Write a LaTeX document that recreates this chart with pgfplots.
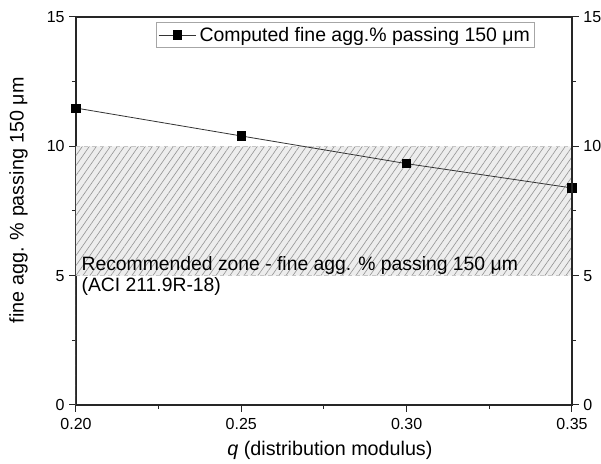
\documentclass[border=0pt]{standalone}
\usepackage{fontspec}
\setmainfont{Liberation Sans}
\usepackage{pgfplots}
\pgfplotsset{compat=1.18}
\usetikzlibrary{patterns.meta}
\begin{document}
\begin{tikzpicture}
\pgfplotsset{
  common/.style={
    scale only axis, width=372pt, height=291pt,
    xmin=0.2, xmax=0.35, ymin=0, ymax=15,
    tick align=outside,
    major tick length=5pt, minor tick length=3pt,
    tick style={black!85, line width=0.75pt},
    axis line style={black!85, line width=0.9pt},
    /pgf/number format/assume math mode=true,
    ticklabel style={font=\fontsize{12}{14}\selectfont},
    ytick={0,5,10,15}, minor ytick={2.5,7.5,12.5},
  }
}
\begin{axis}[common,
  xtick={0.2,0.25,0.3,0.35}, minor xtick={0.225,0.275,0.325},
  xticklabels={0.20,0.25,0.30,0.35},
  xtick pos=bottom, ytick pos=left,
  xticklabel style={yshift=-1.5pt},
  xlabel={\textit{q} (distribution modulus)},
  ylabel={fine agg. \% passing 150 μm},
  label style={font=\fontsize{14.8}{17}\selectfont},
  xlabel style={at={(rel axis cs:0.512,-0.116)}, anchor=center},
  ylabel style={at={(rel axis cs:-0.1159,0.528)}, anchor=center},
  legend style={at={(rel axis cs:0.161,0.987)}, anchor=north west,
    font=\fontsize{14.6}{16}\selectfont, draw=gray!70, inner sep=1.5pt},
  legend cell align=left,
  legend image code/.code={\draw[mark repeat=2,mark phase=2] plot coordinates {(0cm,0cm) (0.5cm,0cm) (1cm,0cm)};},
  clip=false,
]
\addplot[draw=none, fill=gray!14, forget plot] coordinates {(0.2,5) (0.35,5) (0.35,10) (0.2,10)} \closedcycle;
\addplot[draw=none, pattern={Lines[angle=55, distance=4.3pt, line width=0.45pt]}, pattern color=gray!85, forget plot] coordinates {(0.2,5) (0.35,5) (0.35,10) (0.2,10)} \closedcycle;
\addplot[gray!45, dashed, line width=0.6pt, forget plot] coordinates {(0.2,10) (0.35,10)};
\addplot[gray!45, dashed, line width=0.6pt, forget plot] coordinates {(0.2,5) (0.35,5)};
\addplot[black!80, line width=0.6pt, mark=square*, mark size=3.1pt, mark options={solid, fill=black, draw=black}] coordinates {
  (0.20,11.48) (0.25,10.40) (0.30,9.33) (0.35,8.39)};
\addlegendentry{Computed fine agg.\% passing 150 μm}
\node[anchor=base west, align=left, font=\fontsize{14.5}{16.3}\selectfont, inner sep=0pt, text=black] at ([xshift=4pt]axis cs:0.2,4.37) {Recommended zone - fine agg. \% passing 150 μm\\(ACI 211.9R-18)};
\coordinate (bbsw) at (rel axis cs:-0.1532,-0.152);
\coordinate (bbne) at (rel axis cs:1.0585,1.0438);
\end{axis}
\begin{axis}[common,
  axis x line=none, axis y line*=right,
  ytick pos=right,
]
\end{axis}
\pgfresetboundingbox
\useasboundingbox (bbsw) rectangle (bbne);
\end{tikzpicture}
\end{document}
